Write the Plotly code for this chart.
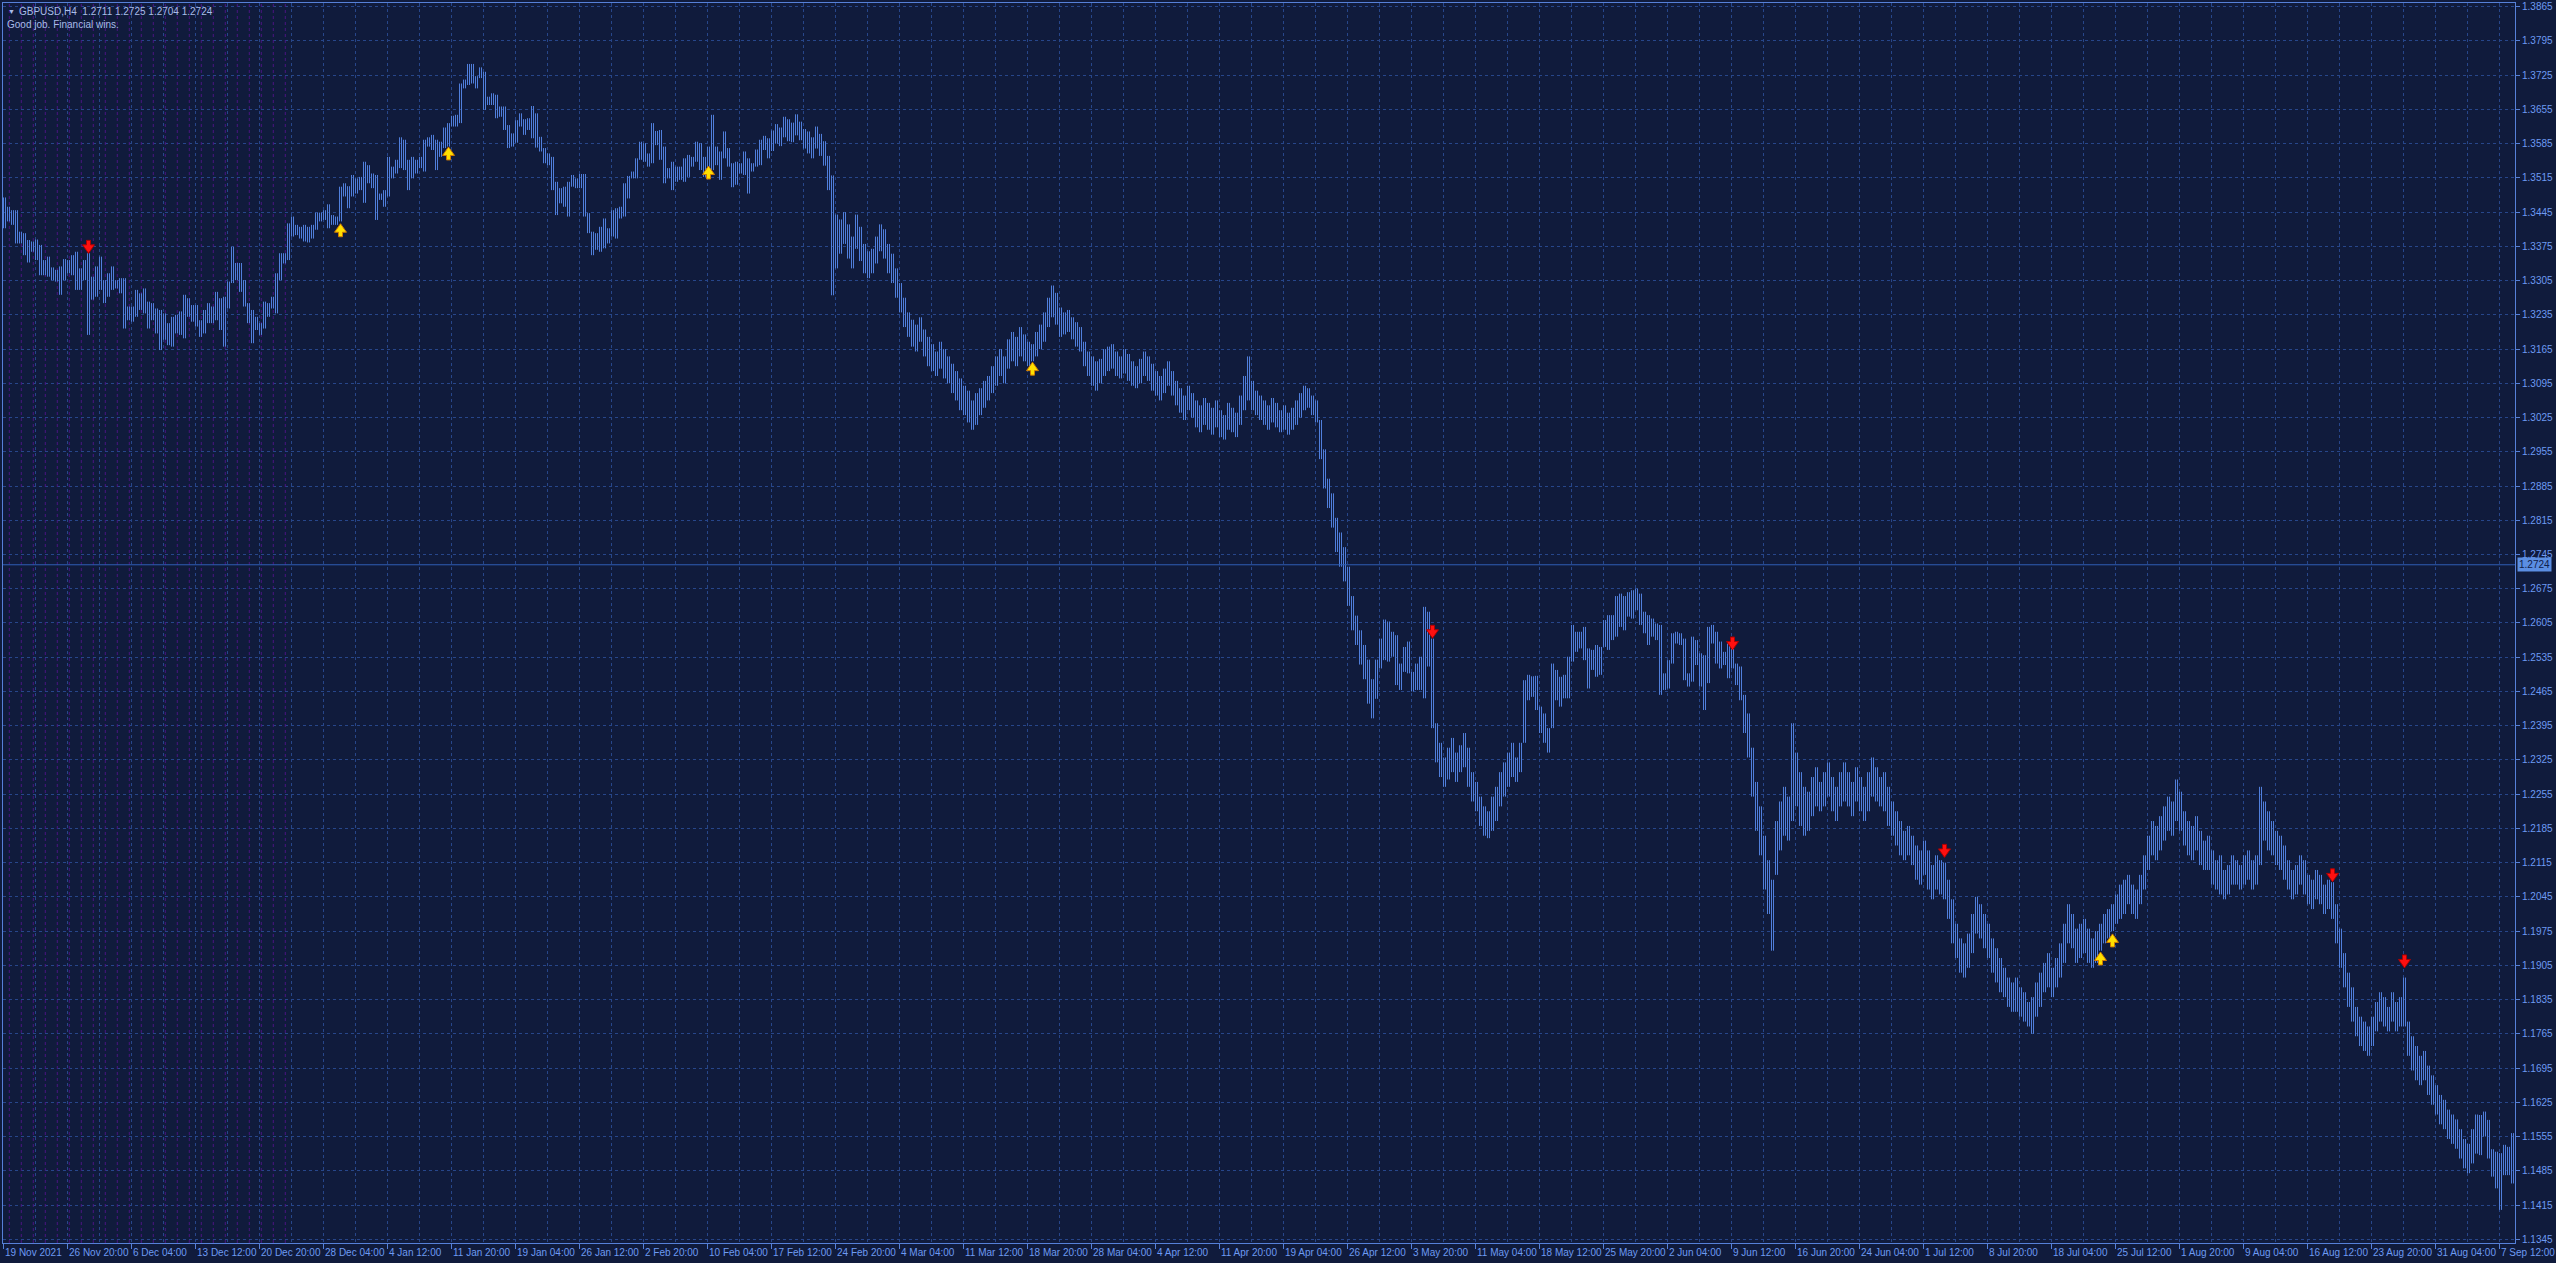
import plotly.graph_objects as go

# ---------------- data ----------------
symbol_line = "GBPUSD,H4\u00a0\u00a01.2711 1.2725 1.2704 1.2724"
comment_line = "Good job. Financial wins."
current_price = 1.2724

date_labels = [
    "19 Nov 2021", "26 Nov 20:00", "6 Dec 04:00", "13 Dec 12:00", "20 Dec 20:00",
    "28 Dec 04:00", "4 Jan 12:00", "11 Jan 20:00", "19 Jan 04:00", "26 Jan 12:00",
    "2 Feb 20:00", "10 Feb 04:00", "17 Feb 12:00", "24 Feb 20:00", "4 Mar 04:00",
    "11 Mar 12:00", "18 Mar 20:00", "28 Mar 04:00", "4 Apr 12:00", "11 Apr 20:00",
    "19 Apr 04:00", "26 Apr 12:00", "3 May 20:00", "11 May 04:00", "18 May 12:00",
    "25 May 20:00", "2 Jun 04:00", "9 Jun 12:00", "16 Jun 20:00", "24 Jun 04:00",
    "1 Jul 12:00", "8 Jul 20:00", "18 Jul 04:00", "25 Jul 12:00", "1 Aug 20:00",
    "9 Aug 04:00", "16 Aug 12:00", "23 Aug 20:00", "31 Aug 04:00", "7 Sep 12:00",
]
bars_per_label = 32

# each entry = high / low of a pair of consecutive H4 bars
bar_highs = [
    1.3475, 1.3456, 1.3449, 1.3449, 1.3405, 1.3402, 1.3388, 1.3385, 1.3389, 1.3378,
    1.3347, 1.3354, 1.3332, 1.3327, 1.3334, 1.3349, 1.3347, 1.3357, 1.3364, 1.3330,
    1.3347, 1.3361, 1.3313, 1.3334, 1.3354, 1.3306, 1.3320, 1.3334, 1.3306, 1.3310,
    1.3310, 1.3252, 1.3252, 1.3286, 1.3279, 1.3289, 1.3262, 1.3259, 1.3248, 1.3245,
    1.3238, 1.3218, 1.3231, 1.3235, 1.3242, 1.3276, 1.3269, 1.3255, 1.3255, 1.3224,
    1.3245, 1.3259, 1.3252, 1.3282, 1.3269, 1.3272, 1.3303, 1.3374, 1.3341, 1.3341,
    1.3306, 1.3259, 1.3245, 1.3231, 1.3218, 1.3262, 1.3259, 1.3272, 1.3320, 1.3361,
    1.3361, 1.3422, 1.3436, 1.3419, 1.3415, 1.3419, 1.3415, 1.3419, 1.3444, 1.3444,
    1.3449, 1.3461, 1.3439, 1.3436, 1.3497, 1.3504, 1.3498, 1.3521, 1.3514, 1.3517,
    1.3548, 1.3541, 1.3524, 1.3521, 1.3483, 1.3490, 1.3558, 1.3538, 1.3552, 1.3598,
    1.3593, 1.3552, 1.3558, 1.3552, 1.3558, 1.3593, 1.3598, 1.3603, 1.3593, 1.3589,
    1.3618, 1.3627, 1.3642, 1.3644, 1.3708, 1.3716, 1.3748, 1.3748, 1.3723, 1.3741,
    1.3732, 1.3681, 1.3688, 1.3685, 1.3661, 1.3661, 1.3623, 1.3606, 1.3633, 1.3647,
    1.3635, 1.3637, 1.3662, 1.3647, 1.3599, 1.3576, 1.3565, 1.3558, 1.3507, 1.3494,
    1.3497, 1.3507, 1.3521, 1.3514, 1.3523, 1.3523, 1.3443, 1.3405, 1.3402, 1.3415,
    1.3432, 1.3412, 1.3449, 1.3453, 1.3456, 1.3504, 1.3519, 1.3528, 1.3555, 1.3589,
    1.3586, 1.3565, 1.3627, 1.3611, 1.3613, 1.3579, 1.3535, 1.3548, 1.3538, 1.3538,
    1.3555, 1.3562, 1.3558, 1.3589, 1.3586, 1.3558, 1.3579, 1.3644, 1.3579, 1.3569,
    1.3610, 1.3576, 1.3545, 1.3548, 1.3545, 1.3569, 1.3555, 1.3545, 1.3573, 1.3593,
    1.3601, 1.3596, 1.3612, 1.3625, 1.3618, 1.3640, 1.3635, 1.3628, 1.3645, 1.3630,
    1.3615, 1.3610, 1.3598, 1.3620, 1.3605, 1.3590, 1.3560, 1.3520, 1.3440, 1.3430,
    1.3445, 1.3420, 1.3395, 1.3440, 1.3415, 1.3380, 1.3365, 1.3370, 1.3395, 1.3420,
    1.3410, 1.3380, 1.3360, 1.3330, 1.3300, 1.3270, 1.3240, 1.3225, 1.3215, 1.3230,
    1.3205, 1.3190, 1.3175, 1.3160, 1.3180, 1.3165, 1.3150, 1.3135, 1.3120, 1.3105,
    1.3090, 1.3080, 1.3060, 1.3075, 1.3085, 1.3100, 1.3110, 1.3130, 1.3150, 1.3165,
    1.3150, 1.3185, 1.3200, 1.3190, 1.3210, 1.3195, 1.3180, 1.3175, 1.3200, 1.3215,
    1.3240, 1.3270, 1.3295, 1.3280, 1.3250, 1.3240, 1.3245, 1.3230, 1.3220, 1.3210,
    1.3180, 1.3160, 1.3150, 1.3140, 1.3145, 1.3165, 1.3170, 1.3175, 1.3160, 1.3150,
    1.3165, 1.3155, 1.3140, 1.3130, 1.3145, 1.3160, 1.3150, 1.3135, 1.3120, 1.3110,
    1.3125, 1.3140, 1.3120, 1.3100, 1.3085, 1.3070, 1.3090, 1.3075, 1.3060, 1.3050,
    1.3065, 1.3055, 1.3045, 1.3060, 1.3040, 1.3030, 1.3055, 1.3045, 1.3035, 1.3070,
    1.3110, 1.3150, 1.3100, 1.3080, 1.3070, 1.3060, 1.3050, 1.3065, 1.3055, 1.3040,
    1.3050, 1.3035, 1.3045, 1.3060, 1.3075, 1.3090, 1.3085, 1.3070, 1.3060, 1.3020,
    1.2960, 1.2900, 1.2870, 1.2820, 1.2790, 1.2760, 1.2720, 1.2660, 1.2620, 1.2590,
    1.2560, 1.2530, 1.2490, 1.2530, 1.2573, 1.2612, 1.2608, 1.2587, 1.2580, 1.2522,
    1.2556, 1.2567, 1.2505, 1.2522, 1.2536, 1.2638, 1.2628, 1.2573, 1.2400, 1.2360,
    1.2330, 1.2350, 1.2370, 1.2340, 1.2355, 1.2380, 1.2350, 1.2300, 1.2280, 1.2250,
    1.2230, 1.2220, 1.2250, 1.2270, 1.2300, 1.2320, 1.2340, 1.2360, 1.2330, 1.2360,
    1.2488, 1.2499, 1.2496, 1.2497, 1.2434, 1.2420, 1.2390, 1.2522, 1.2509, 1.2495,
    1.2499, 1.2536, 1.2601, 1.2587, 1.2587, 1.2597, 1.2553, 1.2550, 1.2560, 1.2556,
    1.2611, 1.2621, 1.2621, 1.2660, 1.2665, 1.2660, 1.2668, 1.2672, 1.2675, 1.2665,
    1.2628, 1.2621, 1.2614, 1.2604, 1.2601, 1.2502, 1.2529, 1.2584, 1.2587, 1.2584,
    1.2573, 1.2502, 1.2577, 1.2570, 1.2543, 1.2539, 1.2597, 1.2601, 1.2587, 1.2567,
    1.2546, 1.2563, 1.2573, 1.2522, 1.2516, 1.2458, 1.2420, 1.2350, 1.2280, 1.2230,
    1.2170, 1.2120, 1.2080, 1.2200, 1.2240, 1.2270, 1.2250, 1.2400, 1.2340, 1.2300,
    1.2270, 1.2260, 1.2290, 1.2310, 1.2280, 1.2300, 1.2320, 1.2290, 1.2270, 1.2300,
    1.2320, 1.2300, 1.2280, 1.2310, 1.2290, 1.2270, 1.2300, 1.2330, 1.2310, 1.2290,
    1.2300, 1.2270, 1.2240, 1.2220, 1.2200, 1.2180, 1.2190, 1.2170, 1.2150, 1.2140,
    1.2160, 1.2140, 1.2110, 1.2130, 1.2120, 1.2115, 1.2080, 1.2040, 1.1990, 1.1960,
    1.1950, 1.1970, 1.2010, 1.2045, 1.2030, 1.2010, 1.1990, 1.1960, 1.1940, 1.1920,
    1.1900, 1.1880, 1.1870, 1.1880, 1.1860, 1.1850, 1.1830, 1.1840, 1.1870, 1.1890,
    1.1910, 1.1930, 1.1900, 1.1920, 1.1950, 1.1990, 1.2030, 1.2010, 1.1980, 1.1990,
    1.2000, 1.1980, 1.1960, 1.1975, 1.1990, 1.2010, 1.2020, 1.2030, 1.2050, 1.2070,
    1.2080, 1.2090, 1.2070, 1.2060, 1.2090, 1.2130, 1.2170, 1.2200, 1.2190, 1.2210,
    1.2230, 1.2250, 1.2240, 1.2285, 1.2260, 1.2220, 1.2200, 1.2190, 1.2210, 1.2180,
    1.2160, 1.2170, 1.2140, 1.2120, 1.2130, 1.2100, 1.2110, 1.2130, 1.2120, 1.2110,
    1.2130, 1.2140, 1.2120, 1.2130, 1.2270, 1.2240, 1.2220, 1.2200, 1.2180, 1.2170,
    1.2150, 1.2120, 1.2100, 1.2110, 1.2130, 1.2120, 1.2090, 1.2080, 1.2100, 1.2090,
    1.2070, 1.2080, 1.2075, 1.2030, 1.1980, 1.1930, 1.1890, 1.1860, 1.1820, 1.1800,
    1.1790, 1.1780, 1.1800, 1.1830, 1.1850, 1.1840, 1.1820, 1.1850, 1.1830, 1.1840,
    1.1880, 1.1790, 1.1760, 1.1740, 1.1720, 1.1730, 1.1700, 1.1680, 1.1660, 1.1640,
    1.1630, 1.1610, 1.1600, 1.1590, 1.1570, 1.1550, 1.1540, 1.1570, 1.1600, 1.1599,
    1.1606, 1.1589, 1.1529, 1.1524, 1.1521, 1.1538, 1.1534, 1.1562,
]
bar_lows = [
    1.3412, 1.3426, 1.3419, 1.3381, 1.3381, 1.3357, 1.3342, 1.3364, 1.3347, 1.3316,
    1.3316, 1.3313, 1.3306, 1.3303, 1.3276, 1.3306, 1.3320, 1.3316, 1.3286, 1.3286,
    1.3306, 1.3194, 1.3266, 1.3272, 1.3286, 1.3259, 1.3272, 1.3286, 1.3289, 1.3279,
    1.3207, 1.3224, 1.3221, 1.3231, 1.3245, 1.3238, 1.3207, 1.3224, 1.3197, 1.3163,
    1.3184, 1.3173, 1.3170, 1.3197, 1.3194, 1.3187, 1.3231, 1.3221, 1.3211, 1.3190,
    1.3197, 1.3218, 1.3218, 1.3224, 1.3204, 1.3170, 1.3248, 1.3300, 1.3306, 1.3282,
    1.3252, 1.3218, 1.3177, 1.3204, 1.3194, 1.3207, 1.3231, 1.3248, 1.3238, 1.3306,
    1.3340, 1.3347, 1.3395, 1.3398, 1.3391, 1.3385, 1.3383, 1.3391, 1.3409, 1.3426,
    1.3429, 1.3412, 1.3419, 1.3419, 1.3426, 1.3477, 1.3453, 1.3477, 1.3483, 1.3490,
    1.3464, 1.3504, 1.3494, 1.3429, 1.3470, 1.3456, 1.3477, 1.3514, 1.3524, 1.3535,
    1.3531, 1.3490, 1.3514, 1.3524, 1.3535, 1.3528, 1.3579, 1.3572, 1.3531, 1.3558,
    1.3576, 1.3579, 1.3620, 1.3620, 1.3627, 1.3698, 1.3705, 1.3708, 1.3698, 1.3719,
    1.3654, 1.3664, 1.3664, 1.3637, 1.3640, 1.3613, 1.3576, 1.3579, 1.3587, 1.3620,
    1.3603, 1.3613, 1.3596, 1.3577, 1.3569, 1.3545, 1.3541, 1.3490, 1.3439, 1.3463,
    1.3456, 1.3436, 1.3497, 1.3494, 1.3494, 1.3436, 1.3402, 1.3357, 1.3368, 1.3364,
    1.3371, 1.3381, 1.3395, 1.3391, 1.3432, 1.3436, 1.3473, 1.3514, 1.3514, 1.3552,
    1.3548, 1.3538, 1.3545, 1.3582, 1.3552, 1.3504, 1.3514, 1.3490, 1.3507, 1.3511,
    1.3507, 1.3517, 1.3538, 1.3548, 1.3531, 1.3517, 1.3538, 1.3531, 1.3541, 1.3511,
    1.3555, 1.3538, 1.3496, 1.3501, 1.3524, 1.3521, 1.3483, 1.3528, 1.3538, 1.3541,
    1.3572, 1.3555, 1.3570, 1.3585, 1.3580, 1.3598, 1.3590, 1.3588, 1.3602, 1.3592,
    1.3575, 1.3565, 1.3555, 1.3575, 1.3560, 1.3540, 1.3490, 1.3275, 1.3330, 1.3360,
    1.3380, 1.3350, 1.3330, 1.3370, 1.3345, 1.3320, 1.3310, 1.3320, 1.3340, 1.3365,
    1.3350, 1.3320, 1.3300, 1.3270, 1.3240, 1.3210, 1.3190, 1.3170, 1.3160, 1.3180,
    1.3150, 1.3130, 1.3120, 1.3110, 1.3125, 1.3105, 1.3095, 1.3075, 1.3060, 1.3040,
    1.3030, 1.3015, 1.3000, 1.3010, 1.3030, 1.3045, 1.3060, 1.3075, 1.3090, 1.3110,
    1.3095, 1.3125, 1.3140, 1.3130, 1.3150, 1.3140, 1.3130, 1.3140, 1.3150, 1.3165,
    1.3180, 1.3210, 1.3230, 1.3215, 1.3190, 1.3195, 1.3200, 1.3185, 1.3170, 1.3160,
    1.3130, 1.3110, 1.3090, 1.3080, 1.3095, 1.3110, 1.3120, 1.3125, 1.3110, 1.3105,
    1.3115, 1.3100, 1.3090, 1.3085, 1.3095, 1.3110, 1.3100, 1.3080, 1.3070, 1.3060,
    1.3075, 1.3090, 1.3070, 1.3050, 1.3035, 1.3020, 1.3040, 1.3025, 1.3005, 1.2995,
    1.3010, 1.3000, 1.2990, 1.3005, 1.2985, 1.2980, 1.3000, 1.2995, 1.2985, 1.3010,
    1.3040, 1.3060, 1.3040, 1.3030, 1.3020, 1.3010, 1.3000, 1.3015, 1.3005, 1.2995,
    1.3000, 1.2990, 1.3000, 1.3010, 1.3025, 1.3040, 1.3045, 1.3030, 1.3015, 1.2940,
    1.2880, 1.2840, 1.2800, 1.2750, 1.2720, 1.2690, 1.2640, 1.2590, 1.2560, 1.2520,
    1.2490, 1.2440, 1.2410, 1.2450, 1.2512, 1.2529, 1.2526, 1.2536, 1.2478, 1.2468,
    1.2505, 1.2502, 1.2465, 1.2468, 1.2468, 1.2451, 1.2516, 1.2390, 1.2320, 1.2290,
    1.2270, 1.2285, 1.2300, 1.2280, 1.2300, 1.2310, 1.2270, 1.2240, 1.2220, 1.2190,
    1.2170, 1.2165, 1.2180, 1.2200, 1.2230, 1.2250, 1.2270, 1.2290, 1.2280, 1.2300,
    1.2360, 1.2447, 1.2454, 1.2427, 1.2380, 1.2360, 1.2340, 1.2390, 1.2447, 1.2434,
    1.2451, 1.2451, 1.2526, 1.2546, 1.2553, 1.2529, 1.2471, 1.2509, 1.2495, 1.2499,
    1.2556, 1.2550, 1.2570, 1.2577, 1.2597, 1.2590, 1.2618, 1.2614, 1.2631, 1.2601,
    1.2584, 1.2560, 1.2577, 1.2570, 1.2458, 1.2468, 1.2471, 1.2522, 1.2563, 1.2560,
    1.2488, 1.2475, 1.2485, 1.2519, 1.2475, 1.2427, 1.2482, 1.2563, 1.2522, 1.2512,
    1.2519, 1.2492, 1.2512, 1.2478, 1.2447, 1.2380, 1.2330, 1.2250, 1.2180, 1.2130,
    1.2060, 1.2010, 1.1935, 1.2090, 1.2140, 1.2170, 1.2160, 1.2200, 1.2230, 1.2190,
    1.2170, 1.2180, 1.2210, 1.2230, 1.2220, 1.2230, 1.2250, 1.2220, 1.2200, 1.2230,
    1.2240, 1.2230, 1.2210, 1.2240, 1.2220, 1.2200, 1.2220, 1.2250, 1.2240, 1.2230,
    1.2220, 1.2190, 1.2170, 1.2150, 1.2130, 1.2120, 1.2130, 1.2110, 1.2080, 1.2070,
    1.2090, 1.2060, 1.2040, 1.2060, 1.2050, 1.2040, 1.2000, 1.1950, 1.1920, 1.1890,
    1.1880, 1.1900, 1.1930, 1.1970, 1.1960, 1.1940, 1.1920, 1.1890, 1.1870, 1.1850,
    1.1840, 1.1820, 1.1810, 1.1810, 1.1800, 1.1790, 1.1780, 1.1765, 1.1800, 1.1820,
    1.1850, 1.1860, 1.1840, 1.1860, 1.1880, 1.1910, 1.1950, 1.1940, 1.1910, 1.1920,
    1.1930, 1.1910, 1.1900, 1.1910, 1.1935, 1.1950, 1.1960, 1.1975, 1.1990, 1.2000,
    1.2010, 1.2030, 1.2010, 1.2000, 1.2030, 1.2060, 1.2100, 1.2130, 1.2120, 1.2140,
    1.2160, 1.2180, 1.2170, 1.2200, 1.2180, 1.2150, 1.2130, 1.2120, 1.2140, 1.2110,
    1.2100, 1.2100, 1.2070, 1.2060, 1.2050, 1.2040, 1.2050, 1.2070, 1.2070, 1.2060,
    1.2070, 1.2080, 1.2060, 1.2070, 1.2110, 1.2160, 1.2140, 1.2130, 1.2110, 1.2100,
    1.2080, 1.2060, 1.2040, 1.2050, 1.2070, 1.2050, 1.2030, 1.2020, 1.2040, 1.2030,
    1.2010, 1.2020, 1.2000, 1.1950, 1.1900, 1.1860, 1.1820, 1.1790, 1.1760, 1.1740,
    1.1730, 1.1720, 1.1740, 1.1770, 1.1790, 1.1780, 1.1770, 1.1790, 1.1770, 1.1780,
    1.1780, 1.1720, 1.1690, 1.1670, 1.1660, 1.1670, 1.1640, 1.1620, 1.1600, 1.1580,
    1.1570, 1.1550, 1.1540, 1.1530, 1.1510, 1.1490, 1.1480, 1.1500, 1.1520, 1.1517,
    1.1555, 1.1510, 1.1473, 1.1449, 1.1405, 1.1476, 1.1476, 1.1459,
]

# signal arrows: index of bar pair, price of arrow centre
sell_signal_idx = [21, 357, 432, 485, 582, 600]
sell_signal_price = [1.3374, 1.2587, 1.2563, 1.2139, 1.2089, 1.1913]
buy_signal_idx = [84, 111, 176, 257, 524, 527]
buy_signal_price = [1.3408, 1.3565, 1.3526, 1.3125, 1.1919, 1.1956]

separator_count = 24  # daily separators drawn at left edge

assert len(bar_highs) == len(bar_lows), (len(bar_highs), len(bar_lows))

# ---------------- style ----------------
W, H = 2556, 1263
ML, MR, MT, MB = 3, 41, 3, 20
BG = "#101b3c"
GRID = "#27468a"
AXIS = "#5680d8"
BAR = "#507fdc"
LABEL = "#6d9af2"
HEADER = "#a9bce8"
PURPLE = "#4a1580"
FONT = "Liberation Sans"
FS = 10

n_bars = 2 * len(bar_highs)
x_range = [-0.25, n_bars - 0.25]
y_range = [1.13373, 1.38726]
plot_w = W - ML - MR
plot_h = H - MT - MB
px_x = plot_w / (x_range[1] - x_range[0])
px_y = plot_h / (y_range[1] - y_range[0])

fig = go.Figure()

# daily separators (purple dashed) near the left edge
sx, sy = [], []
for k in range(separator_count):
    xv = 2.9 + 6 * k
    sx += [xv, xv, None]
    sy += [y_range[0], y_range[1], None]
fig.add_trace(go.Scatter(x=sx, y=sy, mode="lines",
                         line=dict(color=PURPLE, width=1, dash="3px,3px"),
                         hoverinfo="skip", showlegend=False))

# bars: each pair entry drawn as its two 1px H4 bar strokes
bx, by = [], []
for i, (hi, lo) in enumerate(zip(bar_highs, bar_lows)):
    for b in (2 * i, 2 * i + 1):
        bx += [b, b, None]
        by += [lo, hi, None]
fig.add_trace(go.Scatter(x=bx, y=by, mode="lines",
                         line=dict(color=BAR, width=1),
                         hoverinfo="skip", showlegend=False))

# arrows
down_shape = [(-2, 6.5), (2, 6.5), (2, 2), (6, 2), (0, -6.5), (-6, 2), (-2, 2), (-2, 6.5)]


def arrow_polys(idx_list, price_list, flip):
    ax, ay = [], []
    for idx, p in zip(idx_list, price_list):
        xc = 2 * idx + 0.5
        for dx, dy in down_shape:
            ax.append(xc + dx / px_x)
            ay.append(p + (-dy if flip else dy) / px_y)
        ax.append(None)
        ay.append(None)
    return ax, ay


rx, ry = arrow_polys(sell_signal_idx, sell_signal_price, False)
fig.add_trace(go.Scatter(x=rx, y=ry, mode="lines", fill="toself",
                         fillcolor="#ff1010", line=dict(color="#b00000", width=1),
                         hoverinfo="skip", showlegend=False))
yx, yy = arrow_polys(buy_signal_idx, buy_signal_price, True)
fig.add_trace(go.Scatter(x=yx, y=yy, mode="lines", fill="toself",
                         fillcolor="#ffe000", line=dict(color="#d07a00", width=1),
                         hoverinfo="skip", showlegend=False))

# current price line
fig.add_shape(type="line", xref="paper", x0=0, x1=1, yref="y",
              y0=current_price, y1=current_price,
              line=dict(color="#2f5db5", width=1))

annotations = []
for k, lab in enumerate(date_labels):
    annotations.append(dict(x=bars_per_label * k - 0.25, y=0, xref="x", yref="paper",
                            text=lab, showarrow=False, xanchor="left", yanchor="top",
                            xshift=0, yshift=-2,
                            font=dict(family=FONT, size=FS, color=LABEL)))
annotations.append(dict(x=1, y=current_price, xref="paper", yref="y",
                        text="1.2724", showarrow=False, xanchor="left", yanchor="middle",
                        xshift=2, bgcolor="#5b8ee2", borderpad=1,
                        font=dict(family=FONT, size=FS, color="#10204a")))
annotations.append(dict(x=0, y=1, xref="paper", yref="paper", text="\u25bc",
                        showarrow=False, xanchor="left", yanchor="middle",
                        xshift=3, yshift=-8, font=dict(family=FONT, size=7, color=HEADER)))
annotations.append(dict(x=0, y=1, xref="paper", yref="paper", text=symbol_line,
                        showarrow=False, xanchor="left", yanchor="middle",
                        xshift=14, yshift=-8, font=dict(family=FONT, size=FS, color=HEADER)))
annotations.append(dict(x=0, y=1, xref="paper", yref="paper", text=comment_line,
                        showarrow=False, xanchor="left", yanchor="middle",
                        xshift=2, yshift=-21, font=dict(family=FONT, size=FS, color=HEADER)))

fig.update_layout(
    width=W, height=H, autosize=False,
    margin=dict(l=ML, r=MR, t=MT, b=MB, pad=0, autoexpand=False),
    paper_bgcolor=BG, plot_bgcolor=BG,
    showlegend=False,
    annotations=annotations,
    xaxis=dict(range=x_range, tickmode="linear", tick0=-0.25, dtick=bars_per_label,
               showticklabels=False, ticks="outside", ticklen=5, tickcolor=AXIS,
               showgrid=True, gridcolor=GRID, griddash="3px,3px", gridwidth=1,
               minor=dict(tick0=-0.25, dtick=bars_per_label // 2, showgrid=True,
                          gridcolor=GRID, griddash="3px,3px", ticklen=0),
               showline=True, linecolor=AXIS, linewidth=1, mirror=True,
               zeroline=False, fixedrange=True, automargin=False),
    yaxis=dict(range=y_range, side="right", tickmode="linear", tick0=1.1345, dtick=0.007,
               tickformat=".4f", ticks="outside", ticklen=4, tickcolor=AXIS,
               tickfont=dict(family=FONT, size=FS, color=LABEL),
               showgrid=True, gridcolor=GRID, griddash="3px,3px", gridwidth=1,
               showline=True, linecolor=AXIS, linewidth=1, mirror=True,
               zeroline=False, fixedrange=True, automargin=False),
)

fig.write_html(
    "out.html",
    config={"displayModeBar": False, "staticPlot": True},
    post_script="document.body.style.margin='0px';document.body.style.padding='0px';"
                "document.body.style.overflow='hidden';document.body.style.background='#101b3c';",
)
